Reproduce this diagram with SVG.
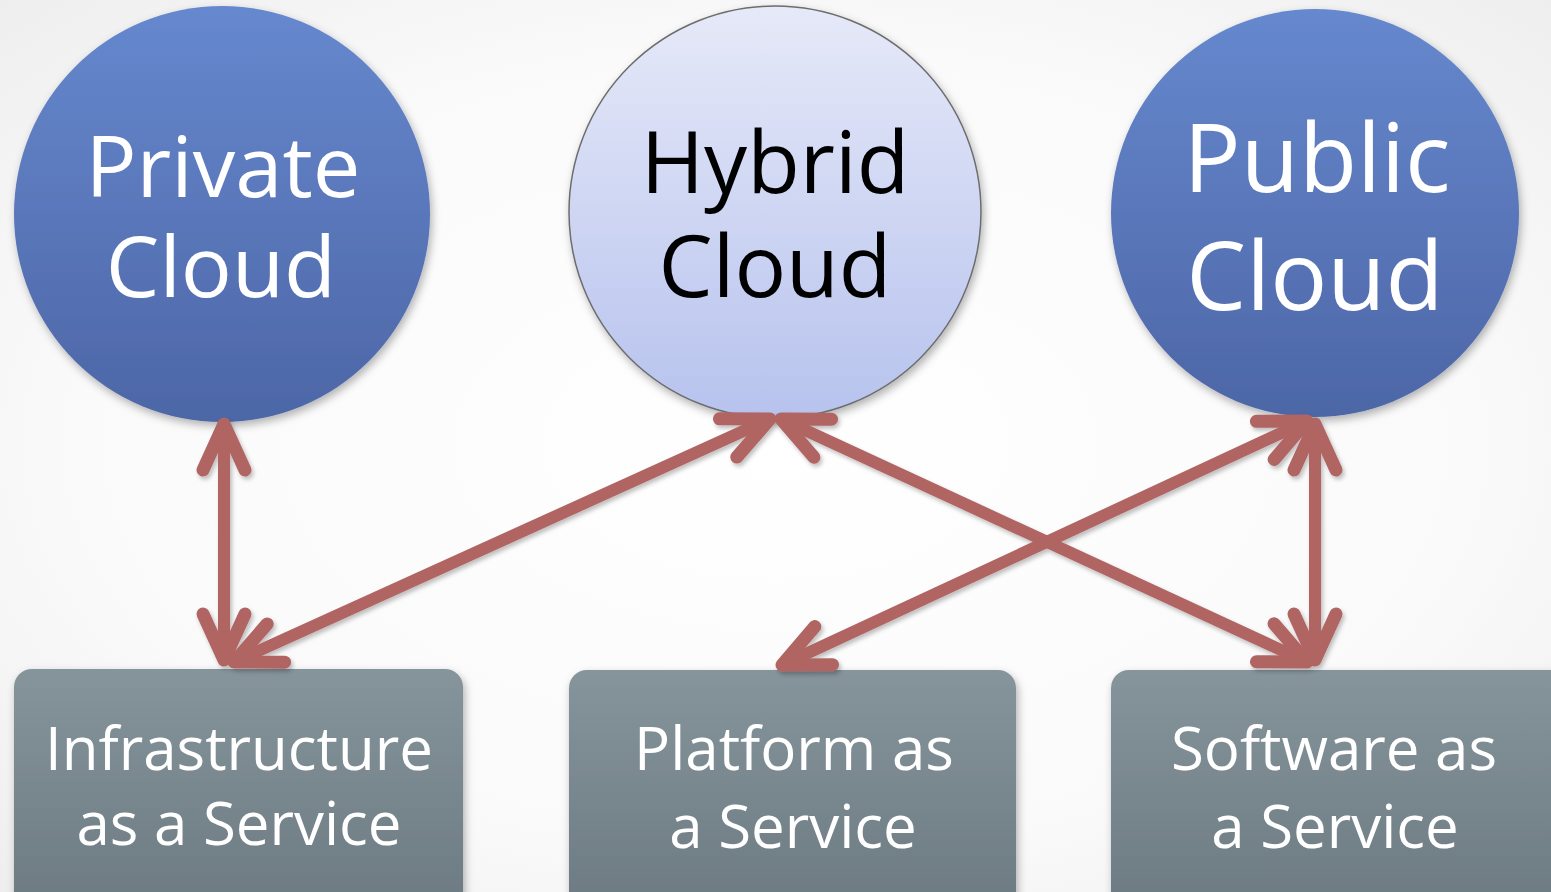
<svg xmlns="http://www.w3.org/2000/svg" width="1551" height="892" viewBox="0 0 1551 892">
<defs>
<radialGradient id="bg" cx="50%" cy="50%" r="75%">
<stop offset="0" stop-color="#ffffff"/><stop offset="0.6" stop-color="#fafafa"/><stop offset="1" stop-color="#ececec"/>
</radialGradient>
<linearGradient id="blue" x1="0" y1="0" x2="0" y2="1">
<stop offset="0" stop-color="#6688ce"/><stop offset="1" stop-color="#4d66a6"/>
</linearGradient>
<linearGradient id="light" x1="0" y1="0" x2="0" y2="1">
<stop offset="0" stop-color="#e6e9f8"/><stop offset="1" stop-color="#b7c3ee"/>
</linearGradient>
<linearGradient id="gray" x1="0" y1="0" x2="0" y2="1">
<stop offset="0" stop-color="#86949b"/><stop offset="1" stop-color="#6b7980"/>
</linearGradient>
<filter id="sh" x="-20%" y="-20%" width="140%" height="140%">
<feDropShadow dx="2" dy="4" stdDeviation="4" flood-color="#000" flood-opacity="0.3"/>
</filter>
<filter id="ash" x="-10%" y="-10%" width="120%" height="120%">
<feDropShadow dx="2" dy="3" stdDeviation="2" flood-color="#000" flood-opacity="0.25"/>
</filter>
<marker id="head" markerUnits="userSpaceOnUse" orient="auto-start-reverse" refX="0" refY="0" markerWidth="80" markerHeight="80" viewBox="-60 -40 80 80" overflow="visible">
<path d="M -46 -21 L 0 0 L -46 21" fill="none" stroke="#b06564" stroke-width="13" stroke-linecap="round" stroke-linejoin="round"/>
</marker>
</defs>
<style>
.conn line { stroke:#b06564; stroke-width:12; marker-start:url(#head); marker-end:url(#head); }
.big { font-family:"Open Sans","Noto Sans",sans-serif; text-anchor:middle; }
.box { font-family:"Open Sans","Noto Sans",sans-serif; text-anchor:middle; fill:#ffffff; font-size:60px; }
</style>
<rect width="1551" height="892" fill="url(#bg)"/>
<g id="private-cloud" filter="url(#sh)">
<circle cx="222" cy="214" r="208" fill="url(#blue)"/>
<text class="big" x="223" y="197" font-size="85" fill="#ffffff">Private</text>
<text class="big" x="221" y="297" font-size="85" fill="#ffffff">Cloud</text>
</g>
<g id="hybrid-cloud" filter="url(#sh)">
<circle cx="775" cy="212" r="206" fill="url(#light)" stroke="#6d6d6d" stroke-width="1.5"/>
<text class="big" x="775" y="193" font-size="86" fill="#000000">Hybrid</text>
<text class="big" x="775" y="297" font-size="86" fill="#000000">Cloud</text>
</g>
<g id="public-cloud" filter="url(#sh)">
<circle cx="1315" cy="213" r="204" fill="url(#blue)"/>
<text class="big" x="1317" y="192" font-size="95" fill="#ffffff">Public</text>
<text class="big" x="1315" y="310" font-size="95" fill="#ffffff">Cloud</text>
</g>
<g id="iaas" filter="url(#sh)">
<rect x="14" y="669" width="449" height="250" rx="18" fill="url(#gray)"/>
<text class="box" x="239" y="770">Infrastructure</text>
<text class="box" x="239" y="845">as a Service</text>
</g>
<g id="paas" filter="url(#sh)">
<rect x="569" y="670" width="447" height="250" rx="18" fill="url(#gray)"/>
<text class="box" x="794" y="770">Platform as</text>
<text class="box" x="793" y="848">a Service</text>
</g>
<g id="saas" filter="url(#sh)">
<rect x="1111" y="670" width="460" height="250" rx="18" fill="url(#gray)"/>
<text class="box" x="1334" y="770">Software as</text>
<text class="box" x="1335" y="848">a Service</text>
</g>
<g id="connectors" class="conn" filter="url(#ash)">
<line x1="224" y1="424" x2="224" y2="660"/>
<line x1="234" y1="662" x2="770" y2="419"/>
<line x1="781" y1="419" x2="1307" y2="662"/>
<line x1="1307" y1="421" x2="782" y2="665"/>
<line x1="1315" y1="424" x2="1315" y2="660"/>
</g>
</svg>
